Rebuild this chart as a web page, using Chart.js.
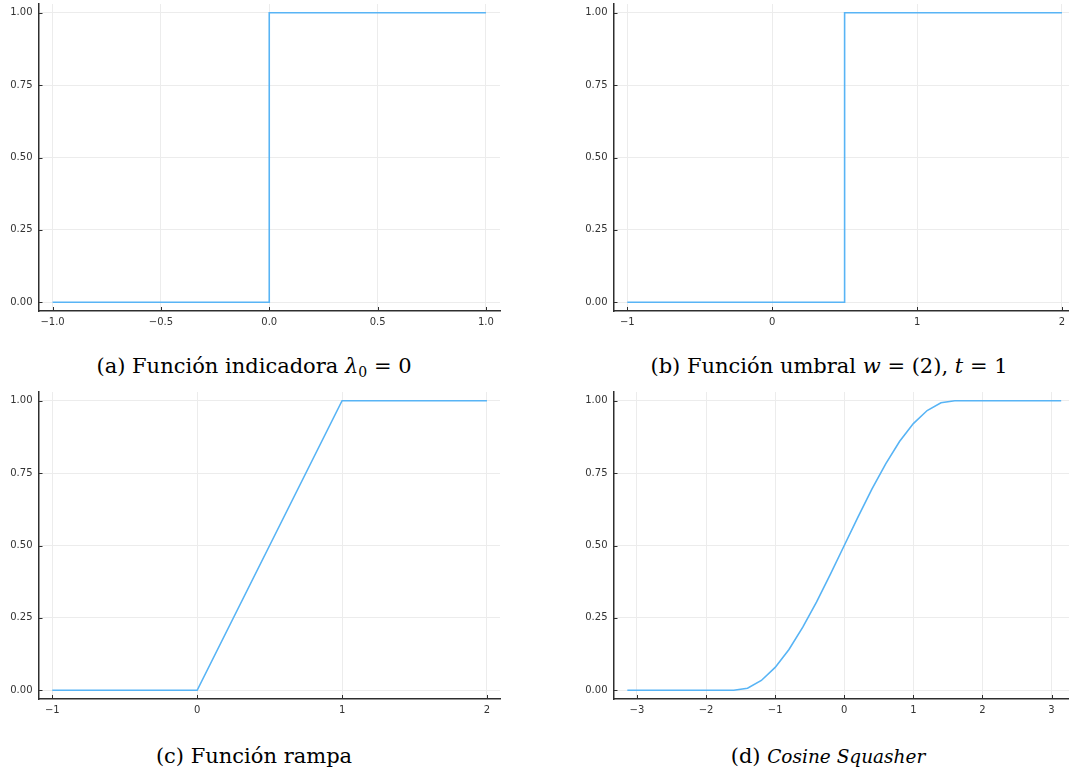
<!DOCTYPE html>
<html lang="es">
<head>
<meta charset="utf-8">
<script src="https://cdn.jsdelivr.net/npm/chart.js@4.4.1/dist/chart.umd.min.js"></script>
<style>
  html, body { margin: 0; padding: 0; background: #fff; width: 1069px; height: 772px; overflow: hidden; }
  .panel { position: absolute; width: 505px; height: 330px; }
  .caption { position: absolute; width: 500px; text-align: center; font-family: "DejaVu Serif", serif; font-size: 21px; line-height: 26px; color: #000; white-space: nowrap; }
  .caption sub { font-size: 14px; vertical-align: -4px; line-height: 0; }
  .caption .it { font-style: italic; font-size: 18.5px; }
</style>
</head>
<body>
<div class="panel" style="left:0;top:0"><canvas id="chartA"></canvas></div>
<div class="panel" style="left:575px;top:0"><canvas id="chartB"></canvas></div>
<div class="panel" style="left:0;top:388px"><canvas id="chartC"></canvas></div>
<div class="panel" style="left:575px;top:388px"><canvas id="chartD"></canvas></div>

<div class="caption" style="left:4px;top:353px">(a) Función indicadora <i>λ</i><sub>0</sub> = 0</div>
<div class="caption" style="left:579px;top:353px">(b) Función umbral <i>w</i> = (2), <i>t</i> = 1</div>
<div class="caption" style="left:4px;top:743px">(c) Función rampa</div>
<div class="caption" style="left:578px;top:743px">(d) <span class="it">Cosine Squasher</span></div>

<script>
// --- DATOS ---
// (a) función indicadora
const indX = [-1, 0, 0, 1];
const indY = [0, 0, 1, 1];
// (b) función umbral
const umbX = [-1, 0.5, 0.5, 2];
const umbY = [0, 0, 1, 1];
// (c) función rampa
const rampX = [-1, 0, 1, 2];
const rampY = [0, 0, 1, 1];
// (d) cosine squasher
const cosX = [-3.14, -1.6, -1.4, -1.2, -1.0, -0.8, -0.6, -0.4, -0.2, 0, 0.2, 0.4, 0.6, 0.8, 1.0, 1.2, 1.4, 1.6, 3.14];
const cosY = [0, 0, 0.007, 0.034, 0.079, 0.141, 0.218, 0.305, 0.401, 0.5, 0.599, 0.695, 0.782, 0.859, 0.921, 0.966, 0.993, 1, 1];

// ticks
const yTicks = [0, 0.25, 0.5, 0.75, 1];
const yLabels = ['0.00', '0.25', '0.50', '0.75', '1.00'];
const xTicksA = [-1, -0.5, 0, 0.5, 1];
const xLabelsA = ['\u22121.0', '\u22120.5', '0.0', '0.5', '1.0'];
const xTicksB = [-1, 0, 1, 2];
const xLabelsB = ['\u22121', '0', '1', '2'];
const xTicksD = [-3, -2, -1, 0, 1, 2, 3];
const xLabelsD = ['\u22123', '\u22122', '\u22121', '0', '1', '2', '3'];

// --- ESTILO ---
const LINE = 'rgb(88, 180, 245)';
const AXIS = '#2e2e2e';
const GRID = '#ececec';
const tickFont = { family: 'DejaVu Sans', size: 10 };

const getEl = (id) => document.getElementById(id);
const toPoints = (xs, ys) => xs.map((x, i) => ({ x, y: ys[i] }));

// sin relleno extra por las etiquetas de los extremos
const noOverhang = (s) => { s.paddingTop = 0; s.paddingBottom = 0; s.paddingLeft = 0; s.paddingRight = 0; };

// marcas de tick hacia dentro (estilo Plots/GR)
const innerTicks = {
    id: 'innerTicks',
    afterDraw(chart) {
        const { ctx, chartArea: a, scales } = chart;
        ctx.save();
        ctx.strokeStyle = AXIS;
        ctx.lineWidth = 1;
        scales.x.ticks.forEach(t => {
            const px = Math.round(scales.x.getPixelForValue(t.value)) + 0.5;
            ctx.beginPath(); ctx.moveTo(px, a.bottom); ctx.lineTo(px, a.bottom - 4); ctx.stroke();
        });
        scales.y.ticks.forEach(t => {
            const py = Math.round(scales.y.getPixelForValue(t.value)) + 0.5;
            ctx.beginPath(); ctx.moveTo(a.left, py); ctx.lineTo(a.left + 4, py); ctx.stroke();
        });
        ctx.restore();
    }
};

const createChart = (id, xs, ys, xMin, xMax, xTicks, xLabels) => new Chart(getEl(id), {
    type: 'scatter',
    data: {
        datasets: [{
            data: toPoints(xs, ys),
            showLine: true,
            borderColor: LINE,
            borderWidth: 1.6,
            pointRadius: 0,
            tension: 0,
            fill: false
        }]
    },
    options: {
        animation: false,
        responsive: true,
        maintainAspectRatio: false,
        layout: { padding: { top: 4, right: 5, left: 0, bottom: 0 } },
        plugins: { legend: { display: false }, tooltip: { enabled: false } },
        scales: {
            x: {
                type: 'linear',
                min: xMin,
                max: xMax,
                afterBuildTicks: (s) => { s.ticks = xTicks.map(v => ({ value: v })); },
                afterFit: (s) => { s.height = 19; noOverhang(s); },
                ticks: {
                    autoSkip: false, maxRotation: 0, padding: 5, color: '#333', font: tickFont,
                    callback: (v) => xLabels[xTicks.indexOf(v)]
                },
                grid: { color: GRID, lineWidth: 1, drawTicks: false },
                border: { color: AXIS, width: 1.5 }
            },
            y: {
                type: 'linear',
                min: -0.03,
                max: 1.03,
                afterBuildTicks: (s) => { s.ticks = yTicks.map(v => ({ value: v })); },
                afterFit: (s) => { s.width = 38.5; noOverhang(s); },
                ticks: {
                    autoSkip: false, padding: 6, color: '#333', font: tickFont,
                    callback: (v) => yLabels[yTicks.indexOf(v)]
                },
                grid: { color: GRID, lineWidth: 1, drawTicks: false },
                border: { color: AXIS, width: 1.5 }
            }
        }
    },
    plugins: [innerTicks]
});

// --- INICIALIZACIÓN ---
createChart('chartA', indX, indY, -1.065, 1.065, xTicksA, xLabelsA);
createChart('chartB', umbX, umbY, -1.095, 2.09, xTicksB, xLabelsB);
createChart('chartC', rampX, rampY, -1.095, 2.09, xTicksB, xLabelsB);
createChart('chartD', cosX, cosY, -3.34, 3.34, xTicksD, xLabelsD);
</script>
</body>
</html>
